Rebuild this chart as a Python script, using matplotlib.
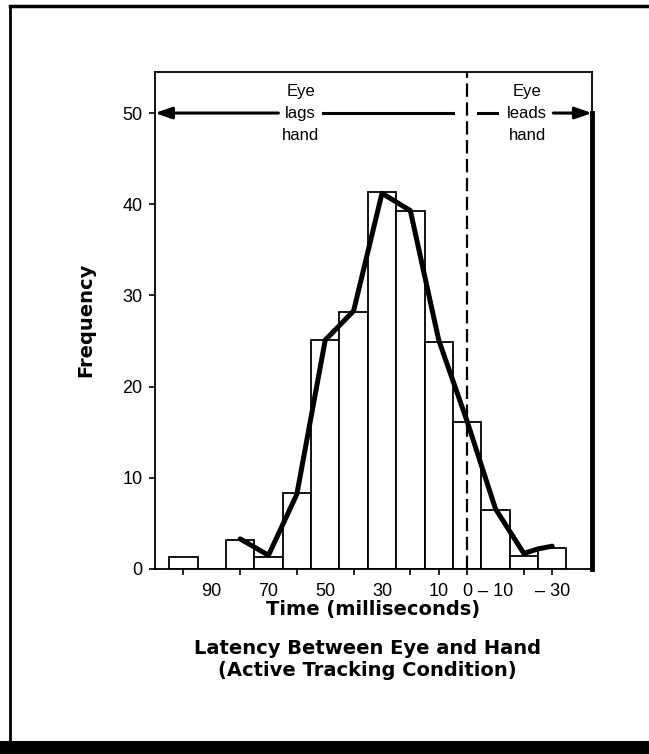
import matplotlib
matplotlib.use("Agg")
import matplotlib.pyplot as plt
from matplotlib.lines import Line2D
from matplotlib.patches import Rectangle

# ---- data ----
bin_centers = [100, 90, 80, 70, 60, 50, 40, 30, 20, 10, 0, -10, -20, -30]
frequencies = [1.3, 0, 3.2, 1.3, 8.3, 25.1, 28.2, 41.3, 39.3, 24.9, 16.1, 6.5, 1.4, 2.3]
poly_x = [80, 70, 60, 50, 40, 30, 20, 10, 0, -10, -20, -25, -30]
poly_y = [3.3, 1.5, 8.2, 25.1, 28.3, 41.2, 39.3, 25.1, 16.2, 6.6, 1.7, 2.2, 2.5]
xtick_marks = [100, 80, 60, 40, 20, 10, 0, -20, -30]
xlabel_pos = [90, 70, 50, 30, 10, 0, -10, -30]
xlabel_txt = ["90", "70", "50", "30", "10", "0", "\u2013 10", "\u2013 30"]
yticks = [0, 10, 20, 30, 40, 50]

plt.rcParams['font.family'] = ['Liberation Sans', 'DejaVu Sans']

fig = plt.figure(figsize=(6.49, 7.54), dpi=100)
ax = fig.add_axes([0.2388, 0.2454, 0.6733, 0.6591])

ax.bar(bin_centers, frequencies, width=10, facecolor='white', edgecolor='black',
       linewidth=1.3, zorder=2)
ax.plot(poly_x, poly_y, color='black', linewidth=3.6, solid_joinstyle='round',
        solid_capstyle='round', zorder=4)

ax.set_xlim(110, -44)
ax.set_ylim(0, 54.5)

# dashed zero line
ax.axvline(0, color='black', linewidth=1.6, linestyle=(0, (6, 2.5)), zorder=3)

# tick marks (no labels) and separate labelled positions
ax.set_xticks(xtick_marks)
ax.set_xticklabels([])
ax.tick_params(axis='x', which='major', direction='inout', length=9, width=1.2)

sec = ax.secondary_xaxis('bottom')
sec.set_xticks(xlabel_pos)
sec.set_xticklabels(xlabel_txt, fontsize=13)
sec.tick_params(axis='x', length=0, pad=10)
sec.spines['bottom'].set_visible(False)

ax.set_yticks(yticks)
ax.set_yticklabels([str(v) for v in yticks], fontsize=13)
ax.tick_params(axis='y', direction='out', length=4, width=1.2, pad=5)

for s in ['left', 'bottom', 'top', 'right']:
    ax.spines[s].set_linewidth(1.3)
ax.axvline(-44, ymin=0, ymax=50 / 54.5, color='black', linewidth=3.5, zorder=5,
           clip_on=False)

# annotations
txtkw = dict(ha='center', va='center', fontsize=12, zorder=6)
ax.text(58.7, 52.4, "Eye", **txtkw)
ax.text(58.7, 50.0, "lags", **txtkw)
ax.text(58.7, 47.5, "hand", **txtkw)
ax.text(-21.2, 52.4, "Eye", **txtkw)
ax.text(-21.2, 50.0, "leads", **txtkw)
ax.text(-21.2, 47.5, "hand", **txtkw)

ax.annotate("", xy=(110, 50), xytext=(66.5, 50),
            arrowprops=dict(arrowstyle='-|>,head_length=1.0,head_width=0.35',
                            color='black', lw=2.2, shrinkA=0, shrinkB=0))
ax.plot([50.7, 4.9], [50, 50], color='black', lw=2.2, zorder=5)
ax.plot([-3.9, -10.6], [50, 50], color='black', lw=2.2, zorder=5)
ax.annotate("", xy=(-44, 50), xytext=(-30.4, 50),
            arrowprops=dict(arrowstyle='-|>,head_length=1.0,head_width=0.35',
                            color='black', lw=2.2, shrinkA=0, shrinkB=0))

# axis labels
bold = dict(family='DejaVu Sans', fontweight='bold', fontsize=14)
fig.text(86 / 649, 1 - 320 / 754, "Frequency", rotation=90, ha='center',
         va='center', **bold)
fig.text(373 / 649, 1 - 609 / 754, "Time (milliseconds)", ha='center',
         va='center', **bold)
fig.text(367 / 649, 1 - 648 / 754, "Latency Between Eye and Hand", ha='center',
         va='center', **bold)
fig.text(367 / 649, 1 - 670 / 754, "(Active Tracking Condition)", ha='center',
         va='center', **bold)

# outer frame
fig.add_artist(Line2D([10 / 649, 10 / 649], [1 - 7 / 754, 1 - 741 / 754],
                      color='black', lw=2, transform=fig.transFigure))
fig.add_artist(Line2D([10 / 649, 1.0], [1 - 6 / 754, 1 - 6 / 754],
                      color='black', lw=2.5, transform=fig.transFigure))
fig.add_artist(Rectangle((0, 0), 1, 13 / 754, facecolor='black', edgecolor='none',
                         transform=fig.transFigure))

fig.savefig("out.png", dpi=100)
